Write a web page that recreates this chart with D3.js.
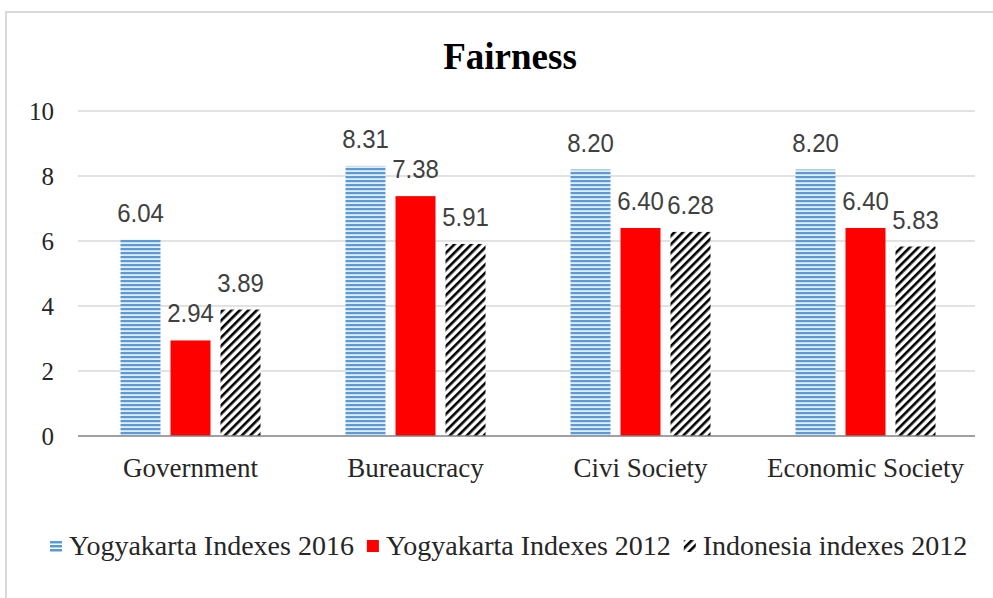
<!DOCTYPE html>
<html>
<head>
<meta charset="utf-8">
<script src="https://cdn.jsdelivr.net/npm/d3@7"></script>
<style>
  html, body { margin: 0; padding: 0; background: #fff; }
  svg { display: block; }
</style>
</head>
<body>
<svg id="chart" width="993" height="598"></svg>
<script>
const title = "Fairness";
const categories = ["Government", "Bureaucracy", "Civi Society", "Economic Society"];
const seriesNames = ["Yogyakarta Indexes 2016", "Yogyakarta Indexes 2012", "Indonesia indexes 2012"];
const yogya2016 = [6.04, 8.31, 8.20, 8.20];
const yogya2012 = [2.94, 7.38, 6.40, 6.40];
const indonesia2012 = [3.89, 5.91, 6.28, 5.83];
const yTicks = [0, 2, 4, 6, 8, 10];

const seriesValues = [yogya2016, yogya2012, indonesia2012];
const fills = ["url(#stripes)", "#ff0000", "url(#hatch)"];

const svg = d3.select("#chart");
const W = 993, H = 598;
const serif = "'Liberation Serif', 'Times New Roman', serif";
const sans = "'Liberation Sans', Arial, sans-serif";

// patterns
const defs = svg.append("defs");
const stripes = defs.append("pattern").attr("id", "stripes")
  .attr("patternUnits", "userSpaceOnUse").attr("width", 8).attr("height", 4);
stripes.append("rect").attr("width", 8).attr("height", 4).attr("fill", "#e3eef9");
stripes.append("rect").attr("y", 0).attr("width", 8).attr("height", 2.2).attr("fill", "#5b9bd5");

const hatch = defs.append("pattern").attr("id", "hatch")
  .attr("patternUnits", "userSpaceOnUse").attr("width", 6).attr("height", 6)
  .attr("patternTransform", "rotate(45)");
hatch.append("rect").attr("width", 6).attr("height", 6).attr("fill", "#fff");
hatch.append("rect").attr("x", 0).attr("width", 2.6).attr("height", 6).attr("fill", "#000");

// outer border
svg.append("rect").attr("x", 6).attr("y", 12).attr("width", W + 20).attr("height", H + 20)
  .attr("fill", "none").attr("stroke", "#d9d9d9").attr("stroke-width", 2);

// title
svg.append("text").attr("x", 510).attr("y", 69).attr("text-anchor", "middle")
  .attr("font-family", serif).attr("font-weight", "bold").attr("font-size", 37)
  .attr("fill", "#000").text(title);

const x0 = d3.scaleBand().domain(categories).range([78, 978])
  .paddingInner(1 / 3).paddingOuter(1 / 6);
const x1 = d3.scaleBand().domain(seriesNames).range([0, x0.bandwidth()])
  .paddingInner(0.2).paddingOuter(0.1);
const y = d3.scaleLinear().domain([0, 10]).range([436, 111]);

// gridlines
svg.append("g").selectAll("line").data(yTicks.filter(d => d > 0)).join("line")
  .attr("x1", 78).attr("x2", 975)
  .attr("y1", d => y(d)).attr("y2", d => y(d))
  .attr("stroke", "#d9d9d9").attr("stroke-width", 1.3);

// y axis labels
const yAxis = d3.axisLeft(y).tickValues(yTicks).tickSize(0).tickPadding(0).tickFormat(d3.format("d"));
const yg = svg.append("g").attr("transform", "translate(54,0)").call(yAxis);
yg.select(".domain").remove();
yg.selectAll("text").attr("font-family", serif).attr("font-size", 25).attr("fill", "#262626")
  .attr("dy", "0.35em");

// bars
const groups = svg.append("g").selectAll("g").data(categories).join("g")
  .attr("transform", d => `translate(${x0(d)},0)`);

seriesNames.forEach((s, si) => {
  groups.append("rect")
    .attr("x", x1(s))
    .attr("width", x1.bandwidth())
    .attr("y", (d, i) => y(seriesValues[si][i]))
    .attr("height", (d, i) => y(0) - y(seriesValues[si][i]))
    .attr("fill", fills[si]);
  groups.append("text")
    .attr("transform", (d, i) =>
      `translate(${x1(s) + x1.bandwidth() / 2},${y(seriesValues[si][i]) - 18}) scale(1,1.1)`)
    .attr("text-anchor", "middle")
    .attr("font-family", sans).attr("font-size", 24).attr("fill", "#404040")
    .text((d, i) => seriesValues[si][i].toFixed(2));
});

// x axis
const xAxis = d3.axisBottom(x0).tickSize(0).tickPadding(0);
const xg = svg.append("g").attr("transform", `translate(0,${y(0)})`).call(xAxis);
xg.select(".domain").remove();
svg.append("line").attr("x1", 78).attr("x2", 975).attr("y1", y(0)).attr("y2", y(0))
  .attr("stroke", "#808080").attr("stroke-width", 1.5);
xg.selectAll("text").attr("font-family", serif).attr("font-size", 27).attr("fill", "#262626")
  .attr("dy", 0).attr("y", 41);

// legend
const legend = svg.append("g");
let lx = 50;
const ly = 555;
seriesNames.forEach((s, si) => {
  const g = legend.append("g");
  if (si === 0) {
    [0, 4, 8].forEach(o => g.append("rect").attr("x", lx).attr("y", ly - 14 + o)
      .attr("width", 12).attr("height", 2.5).attr("fill", "#5b9bd5"));
  } else if (si === 1) {
    g.append("rect").attr("x", lx).attr("y", ly - 15).attr("width", 12).attr("height", 12).attr("fill", "#ff0000");
  } else {
    g.append("rect").attr("x", lx).attr("y", ly - 15).attr("width", 12).attr("height", 12).attr("fill", "url(#hatch)");
  }
  const t = g.append("text").attr("x", lx + 19).attr("y", ly)
    .attr("font-family", serif).attr("font-size", 28).attr("fill", "#262626").text(s);
  lx = lx + 19 + t.node().getComputedTextLength() + 13;
});
</script>
</body>
</html>
